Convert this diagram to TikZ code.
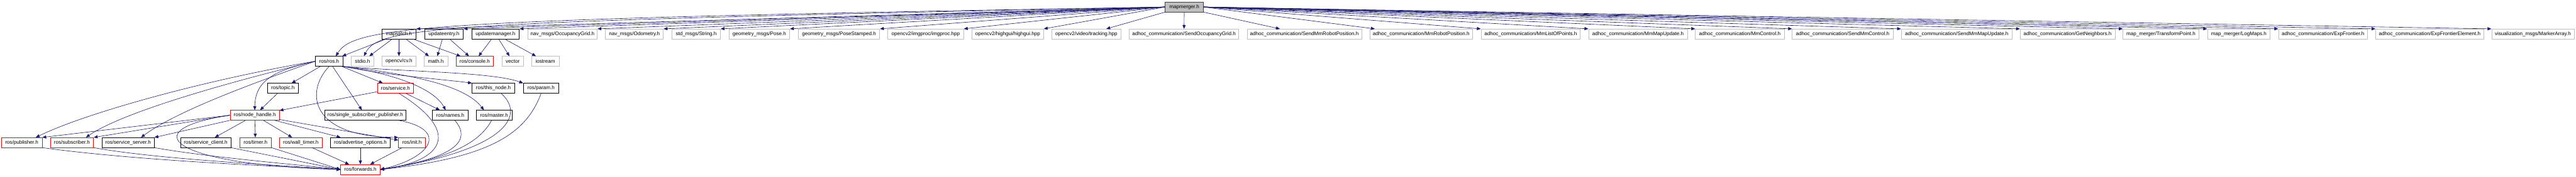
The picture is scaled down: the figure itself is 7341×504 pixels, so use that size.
\documentclass[tikz,border=0pt]{standalone}
\usepackage{fontspec}
\setmainfont{Liberation Sans}
\usepackage{xcolor}
\usepackage{tikz}
\usetikzlibrary{arrows.meta}
\definecolor{edgeblue}{HTML}{191970}
\definecolor{sysgray}{HTML}{BFBFBF}
\definecolor{rootgray}{HTML}{BFBFBF}

\tikzset{
  hfile/.style={draw=black,line width=1.3pt,fill=white,minimum height=28pt,inner sep=2pt,
    font=\fontsize{14.5}{17}\selectfont},
  sysfile/.style={hfile,draw=sysgray},
  redfile/.style={hfile,draw=red},
  rootfile/.style={hfile,fill=rootgray,draw=black!75},
  dep/.style={draw=edgeblue,line width=1.1pt,-{Triangle[length=11pt,width=9pt]}},
}

\begin{document}
\begin{tikzpicture}[x=1pt,y=-1pt]
  \useasboundingbox (0,0) rectangle (7341,504);
  % the file itself
  \node[rootfile,minimum width=109pt] (mm) at (3375,20) {mapmerger.h};

  % direct includes
  \node[hfile,minimum width=98pt] (mst) at (1137,97) {mapstitch.h};
  \node[hfile,minimum width=111pt] (uent) at (1265,97) {updateentry.h};
  \node[hfile,minimum width=136pt] (umgr) at (1412,97) {updatemanager.h};
  \node[sysfile,minimum width=198pt] (ogrid) at (1603,97) {nav\_msgs/OccupancyGrid.h};
  \node[sysfile,minimum width=165pt] (odom) at (1808,97) {nav\_msgs/Odometry.h};
  \node[sysfile,minimum width=138pt] (str) at (1984,97) {std\_msgs/String.h};
  \node[sysfile,minimum width=173pt] (pose) at (2164,97) {geometry\_msgs/Pose.h};
  \node[sysfile,minimum width=232pt] (poses) at (2391,97) {geometry\_msgs/PoseStamped.h};
  \node[sysfile,minimum width=216pt] (imgp) at (2638,97) {opencv2/imgproc/imgproc.hpp};
  \node[sysfile,minimum width=204pt] (hgui) at (2872,97) {opencv2/highgui/highgui.hpp};
  \node[sysfile,minimum width=198pt] (trk) at (3096,97) {opencv2/video/tracking.hpp};
  \node[sysfile,minimum width=312pt] (sog) at (3374,97) {adhoc\_communication/SendOccupancyGrid.h};
  \node[sysfile,minimum width=326pt] (smrp) at (3717,97) {adhoc\_communication/SendMmRobotPosition.h};
  \node[sysfile,minimum width=293pt] (mrp) at (4050,97) {adhoc\_communication/MmRobotPosition.h};
  \node[sysfile,minimum width=283pt] (mlop) at (4362,97) {adhoc\_communication/MmListOfPoints.h};
  \node[sysfile,minimum width=282pt] (mmu) at (4668,97) {adhoc\_communication/MmMapUpdate.h};
  \node[sysfile,minimum width=253pt] (mctl) at (4958,97) {adhoc\_communication/MmControl.h};
  \node[sysfile,minimum width=287pt] (smctl) at (5251,97) {adhoc\_communication/SendMmControl.h};
  \node[sysfile,minimum width=316pt] (smmu) at (5576,97) {adhoc\_communication/SendMmMapUpdate.h};
  \node[sysfile,minimum width=270pt] (gnb) at (5892,97) {adhoc\_communication/GetNeighbors.h};
  \node[sysfile,minimum width=216pt] (tfp) at (6158,97) {map\_merger/TransformPoint.h};
  \node[sysfile,minimum width=179pt] (logm) at (6380,97) {map\_merger/LogMaps.h};
  \node[sysfile,minimum width=254pt] (expf) at (6620,97) {adhoc\_communication/ExpFrontier.h};
  \node[sysfile,minimum width=308pt] (expfe) at (6924,97) {adhoc\_communication/ExpFrontierElement.h};
  \node[sysfile,minimum width=235pt] (mka) at (7218,97) {visualization\_msgs/MarkerArray.h};

  \node[hfile,minimum width=79pt] (ros) at (938,175) {ros/ros.h};
  \node[sysfile,minimum width=66pt] (stdio) at (1033,175) {stdio.h};
  \node[sysfile,minimum width=97pt] (cv) at (1137,175) {opencv/cv.h};
  \node[sysfile,minimum width=68pt] (math) at (1242,175) {math.h};
  \node[redfile,minimum width=107pt] (con) at (1353,175) {ros/console.h};
  \node[sysfile,minimum width=62pt] (vec) at (1461,175) {vector};
  \node[sysfile,minimum width=79pt] (ios) at (1554,175) {iostream};

  \node[hfile,minimum width=89pt] (topic) at (806,252) {ros/topic.h};
  \node[redfile,minimum width=103pt] (srv) at (1127,252) {ros/service.h};
  \node[hfile,minimum width=121pt] (thn) at (1406,252) {ros/this\_node.h};
  \node[hfile,minimum width=101pt] (param) at (1542,252) {ros/param.h};

  \node[redfile,minimum width=140pt] (nh) at (726,329) {ros/node\_handle.h};
  \node[hfile,minimum width=232pt] (ssp) at (1041,329) {ros/single\_subscriber\_publisher.h};
  \node[hfile,minimum width=103pt] (names) at (1283,329) {ros/names.h};
  \node[hfile,minimum width=103pt] (master) at (1408,329) {ros/master.h};

  \node[redfile,minimum width=116pt] (pub) at (62,407) {ros/publisher.h};
  \node[redfile,minimum width=123pt] (sub) at (205,407) {ros/subscriber.h};
  \node[hfile,minimum width=149pt] (ssrv) at (365,407) {ros/service\_server.h};
  \node[hfile,minimum width=143pt] (scli) at (586,407) {ros/service\_client.h};
  \node[redfile,minimum width=90pt] (tmr) at (728,407) {ros/timer.h};
  \node[redfile,minimum width=121pt] (wtmr) at (857,407) {ros/wall\_timer.h};
  \node[hfile,minimum width=171pt] (adv) at (1027,407) {ros/advertise\_options.h};
  \node[redfile,minimum width=77pt] (init) at (1174,407) {ros/init.h};

  \node[redfile,minimum width=112pt] (fwd) at (1027,484) {ros/forwards.h};

  % edges from mapmerger.h
  \foreach \n in {mst,uent,umgr,ogrid,odom,str,pose,poses,imgp,hgui}
    \draw[dep] (mm.west) -- (\n.north east);
  \draw[dep] (mm.south west) -- ([xshift=-43pt]trk.north east);
  \draw[dep] (mm) -- (sog);
  \draw[dep] (mm.south east) -- ([xshift=94pt]smrp.north west);
  \draw[dep] (mm.east) -- ([xshift=15pt]mrp.north west);
  \foreach \n in {mlop,mmu,mctl,smctl,smmu,gnb,tfp,logm,expf,expfe,mka}
    \draw[dep] (mm.east) -- (\n.north west);
  \draw[dep] (mm.west) .. controls (1200,55) and (1010,75) .. ([xshift=19pt]ros.north);
  \draw[dep] (mm.west) .. controls (1250,62) and (1080,75) .. ([xshift=4pt]stdio.north);

  % second level
  \foreach \n in {ros,stdio,cv,math,con}
    \draw[dep] (mst) -- (\n);
  \draw[dep] (uent) -- (math);
  \draw[dep] (uent) -- (con);
  \foreach \n in {con,vec,ios}
    \draw[dep] (umgr) -- (\n);

  % ros/ros.h
  \draw[dep] (ros) -- (topic);
  \draw[dep] (ros) -- (ssp);
  \draw[dep] (ros) -- (srv);
  \draw[dep] (ros.west) .. controls (790,200) and (727,225) .. (nh.north);
  \draw[dep] (ros.west) .. controls (600,225) and (250,320) .. ([xshift=40pt]pub.north);
  \draw[dep] (ros.west) .. controls (650,235) and (350,320) .. ([xshift=40pt]sub.north);
  \draw[dep] (ros.west) .. controls (700,245) and (500,320) .. ([xshift=37pt]ssrv.north);
  \draw[dep] (ros.south) .. controls (870,260) and (880,390) .. (init.north west);
  \draw[dep] (ros.south east) .. controls (1150,215) and (1240,260) .. ([xshift=-13pt]names.north);
  \draw[dep] (ros.south east) .. controls (1200,215) and (1330,250) .. ([xshift=-29pt]master.north);
  \draw[dep] (ros.south east) .. controls (1100,215) and (1250,225) .. (thn.north west);
  \draw[dep] (ros.south east) .. controls (1150,205) and (1400,205) .. (param.north west);

  % ros/node_handle.h and friends
  \draw[dep] (topic) -- (nh);
  \draw[dep] (srv) -- (nh);
  \draw[dep] (srv) -- (names);
  \draw[dep] (nh.west) -- (pub.north east);
  \draw[dep] (nh.west) -- (sub.north east);
  \draw[dep] (nh.south west) -- (ssrv.north east);
  \foreach \n in {scli,tmr,wtmr,adv,init}
    \draw[dep] (nh) -- (\n);
  \draw[dep] (nh.west) .. controls (380,370) and (480,470) .. (fwd.west);

  % everything ends in ros/forwards.h
  \draw[dep] ([xshift=10pt]srv.south) .. controls (1320,380) and (1260,460) .. (fwd.east);
  \draw[dep] ([xshift=95pt]ssp.south) .. controls (1280,370) and (1230,450) .. (fwd.east);
  \draw[dep] ([xshift=13pt]names.south) .. controls (1345,400) and (1300,450) .. (fwd.east);
  \draw[dep] ([xshift=-7pt]master.south) .. controls (1370,400) and (1300,450) .. (fwd.east);
  \draw[dep] ([xshift=22pt]thn.south) .. controls (1500,330) and (1440,430) .. (fwd.east);
  \draw[dep] (param.south) .. controls (1500,380) and (1400,450) .. (fwd.east);
  \draw[dep] (pub.south east) .. controls (400,460) and (800,475) .. (fwd.west);
  \draw[dep] (sub.south east) .. controls (450,455) and (800,472) .. (fwd.west);
  \draw[dep] (ssrv.south east) .. controls (600,450) and (850,470) .. (fwd.west);
  \draw[dep] (scli.south east) .. controls (750,440) and (900,470) .. (fwd.west);
  \draw[dep] (tmr.south east) -- (fwd.west);
  \foreach \n in {wtmr,adv,init}
    \draw[dep] (\n) -- (fwd);
\end{tikzpicture}
\end{document}
